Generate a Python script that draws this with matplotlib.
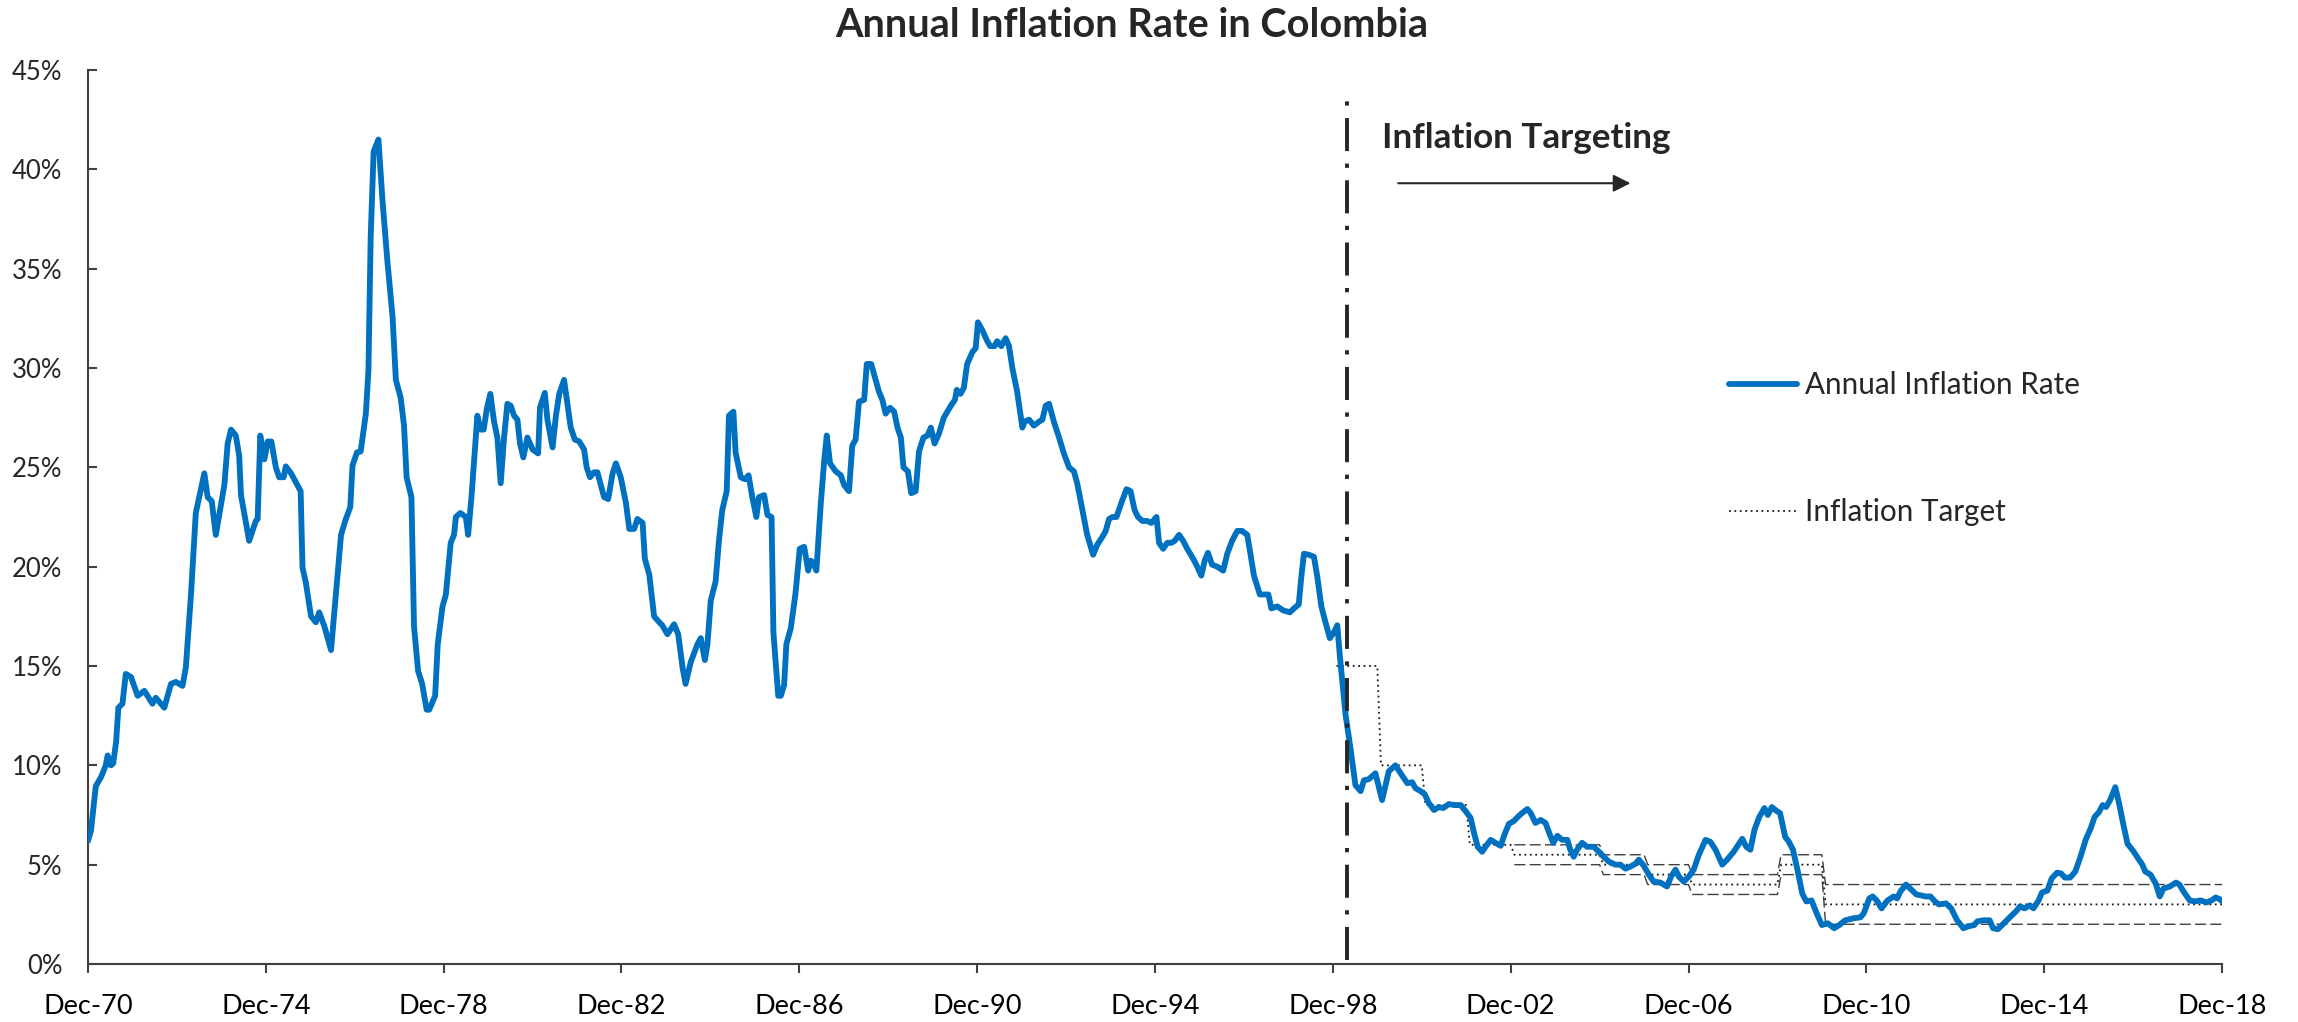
import numpy as np
import matplotlib
matplotlib.use("Agg")
import matplotlib.pyplot as plt

# Font close to Calibri (Carlito is derived from Lato)
plt.rcParams['font.family'] = ['Lato', 'DejaVu Sans']
TEXT_COLOR = '#262626'
BLUE = '#0070C0'

# Months counted from Dec-70 (0 = Dec-70, 576 = Dec-18)
months = [
    0, 0.8, 2.1, 3.5, 4.8, 5.3, 6.2, 6.8, 7.6, 8.2, 9.3, 10.2, 11.6, 13.4, 15.2, 17.4,
    18.3, 20.6, 22.4, 23.7, 25.5, 26.4, 27.8, 29.1, 31.4, 32.3, 33.4, 34.5, 36.8, 37.7,
    38.6, 39.9, 40.8, 41.3, 43.5, 45.3, 45.8, 46.5, 47.6, 48.5, 49.5, 50.7, 51.6, 52.8,
    53.4, 54.8, 57.4, 57.9, 58.8, 60.2, 61.5, 62.4, 63.8, 65.6, 66.9, 68.3, 69.6, 70.8,
    71.4, 72.6, 73.6, 75.0, 75.7, 76.3, 77.1, 78.4, 79.5, 80.8, 82.2, 83.1, 84.4, 85.3,
    86.0, 87.3, 88.0, 89.1, 90.2, 91.4, 92.1, 93.7, 94.4, 95.7, 96.6,
    97.9, 98.8, 99.3, 100.5, 102.0, 102.6, 103.5, 105.1, 105.9, 106.8, 107.7, 108.6,
    109.6, 110.5, 111.4, 112.3, 113.2, 114.1, 115.0, 115.9, 116.6, 117.5, 118.6, 120.0,
    121.5, 122.0, 123.3, 124.0, 125.4, 126.3, 127.2, 128.5, 129.4, 130.3, 131.4, 132.6,
    133.9, 134.6, 135.5, 136.6, 137.5, 139.3, 140.4, 141.6, 142.5, 143.8, 145.2, 146.1,
    147.4, 148.3, 149.7, 150.3, 151.5, 152.8, 154.2, 155.0, 156.4, 158.2, 159.3, 160.5,
    161.3, 162.7, 164.5, 165.4, 166.5, 167.2, 168.1, 169.4, 170.3, 171.2, 172.4, 173.0,
    174.2, 174.8, 176.2, 177.3, 178.3, 179.3, 180.4, 181.1, 182.5, 183.4, 184.5, 185.0,
    186.3, 187.0, 187.9, 188.5, 189.7, 191.0, 192.1, 193.3, 194.4, 195.1, 195.8, 196.6,
    197.8, 198.7, 199.4, 200.3, 201.8, 203.2, 204.1, 205.4, 206.3, 207.2, 208.1, 209.5,
    210.2, 211.4, 212.6, 213.5, 214.4, 215.3, 216.5, 217.6, 218.5, 219.4,
    220.1, 221.3, 222.2, 223.4, 224.3, 225.5, 226.6, 227.5, 228.5, 229.7, 231.0, 232.9,
    234.0, 234.5, 235.5, 236.4, 237.3, 238.7, 239.6, 240.2, 241.4, 242.6, 243.5, 244.7,
    245.4, 246.5, 247.7, 248.6, 249.5, 250.8, 252.2, 252.8, 254.0, 255.3, 256.7, 257.6,
    258.5, 259.4, 260.7, 262.1, 263.4, 264.8, 266.1, 267.0, 268.4, 269.7, 271.3, 272.4,
    273.8, 274.7, 275.6, 276.5, 277.6, 278.9, 280.3, 281.4, 282.5, 283.4, 284.6, 285.9,
    287.0, 288.4, 289.1, 290.2, 291.3, 292.4, 293.3, 294.5, 295.6, 296.7, 298.3, 299.4,
    300.5, 301.4, 302.3, 303.4, 304.8, 306.4, 307.5, 308.8, 310.2, 311.5, 312.9, 313.8,
    314.7, 316.3, 317.4, 318.6, 319.4, 321.0, 322.6, 324.4, 325.5, 326.8, 327.5, 328.2,
    329.5, 330.9, 331.8, 332.9, 333.8, 335.2, 336.3, 337.2, 337.9, 339.4,
    340.8, 342.1, 343.5, 344.4, 345.7, 347.5, 349.3, 351.1, 352.9, 354.3, 356.1, 357.4,
    358.3, 359.7, 360.8, 361.9, 363.3, 364.6, 365.8, 367.3, 368.8, 370.5, 371.8, 373.2,
    374.1, 375.1, 376.3, 377.2, 378.6, 379.9, 381.3, 382.3, 383.5, 384.9, 385.9, 387.1,
    388.5, 389.4, 390.7, 392.1, 393.4, 394.6, 395.5, 396.6, 397.9, 399.3, 400.1, 401.0,
    401.9, 403.3, 404.6, 406.4, 407.8, 409.1, 410.5, 412.3, 413.6, 415.0, 416.3, 417.7,
    418.6, 419.9, 421.3, 422.6, 424.4, 426.2, 427.3, 428.5, 429.4, 430.7, 432.1, 433.4,
    434.8, 436.6, 437.9, 439.3, 441.1, 442.4, 444.2, 446.5, 447.6, 448.7,
    449.8, 451.1, 452.5, 453.4, 454.5, 455.8, 456.7, 458.1, 459.1, 460.2, 461.4, 462.7,
    463.8, 465.2, 466.6, 468.0, 469.6, 471.3, 472.7, 474.3, 476.5, 478.4, 479.3, 480.8,
    481.7, 482.8, 484.1, 485.7, 487.4, 488.3, 489.2, 490.7, 492.1, 493.5, 494.9, 495.9,
    497.3, 498.5, 499.6, 501.5, 502.9, 504.5, 506.2, 507.6, 509.1, 510.0, 511.7, 513.3,
    514.2, 515.5, 517.1, 519.0, 520.4, 521.5, 522.7, 524.1, 525.1, 526.5, 527.4, 528.9,
    530.0, 531.5, 532.6, 533.6, 535.0, 536.4, 537.8, 539.2, 540.6, 541.6, 542.8, 543.8,
    544.7, 545.8, 547.2, 548.2, 549.4, 550.5, 552.0, 553.4, 554.5, 555.3, 556.7, 558.1,
    559.2, 560.2, 561.9, 563.6, 564.5, 565.6, 567.3, 568.7, 570.2, 571.8, 573.2, 574.3,
    575.5, 576.0,
]

# Annual inflation rate (%)
inflation = [
    6.2, 6.7, 8.95, 9.4, 10.0, 10.5, 10.0, 10.1, 11.2, 12.9, 13.1, 14.6, 14.45, 13.5, 13.75, 13.1,
    13.4, 12.9, 14.1, 14.2, 14.0, 14.9, 18.6, 22.7, 24.7, 23.5, 23.3, 21.6, 24.1, 26.2,
    26.9, 26.6, 25.6, 23.6, 21.3, 22.3, 22.4, 26.6, 25.4, 26.3, 26.3, 25.0, 24.5, 24.5,
    25.05, 24.7, 23.8, 19.95, 19.2, 17.5, 17.2, 17.7, 17.0, 15.8, 18.6, 21.6, 22.4, 23.0,
    25.1, 25.75, 25.8, 27.7, 29.9, 36.6, 40.9, 41.5, 38.4, 35.4, 32.6, 29.4, 28.5, 27.1,
    24.5, 23.5, 17.0, 14.75, 14.1, 12.8, 12.8, 13.5, 16.1, 18.0, 18.6,
    21.2, 21.6, 22.5, 22.7, 22.5, 21.6, 23.5, 27.6, 26.9, 26.9, 28.0, 28.7,
    27.3, 26.5, 24.2, 26.5, 28.2, 28.1, 27.6, 27.4, 26.2, 25.5, 26.5, 25.9,
    25.7, 28.0, 28.75, 27.4, 26.0, 27.6, 28.7, 29.4, 28.2, 27.0, 26.4, 26.3,
    25.9, 25.0, 24.5, 24.75, 24.75, 23.5, 23.4, 24.7, 25.2, 24.5, 23.2, 21.9,
    21.9, 22.4, 22.2, 20.4, 19.6, 17.5, 17.2, 17.05, 16.6, 17.1, 16.6, 14.9,
    14.1, 15.2, 16.1, 16.4, 15.3, 16.1, 18.3, 19.25, 21.3, 22.85, 23.8, 27.6,
    27.8, 25.75, 24.5, 24.4, 24.6, 23.5, 22.5, 23.5, 23.6, 22.6, 22.5, 16.7,
    13.5, 13.5, 14.05, 16.1, 16.9, 18.7, 20.9, 21.0, 19.8, 20.3, 20.2, 19.8,
    23.2, 25.3, 26.6, 25.2, 24.8, 24.6, 24.1, 23.8, 26.1, 26.4, 28.3, 28.4,
    30.2, 30.2, 29.4, 28.8, 28.4, 27.7, 28.0, 27.8, 27.0, 26.5,
    25.0, 24.8, 23.7, 23.8, 25.8, 26.5, 26.6, 27.0, 26.2, 26.7, 27.5, 28.1,
    28.4, 28.9, 28.7, 29.0, 30.2, 30.8, 31.0, 32.3, 31.9, 31.4, 31.1, 31.1,
    31.35, 31.1, 31.5, 31.1, 30.0, 28.8, 27.0, 27.3, 27.4, 27.1, 27.3, 27.4,
    28.1, 28.2, 27.3, 26.5, 25.7, 25.0, 24.8, 24.2, 22.85, 21.6, 20.6, 21.1,
    21.5, 21.8, 22.4, 22.5, 22.5, 23.2, 23.9, 23.8, 22.85, 22.5, 22.3, 22.3,
    22.2, 22.5, 21.2, 20.9, 21.2, 21.2, 21.3, 21.6, 21.3, 20.9, 20.4, 20.0,
    19.55, 20.3, 20.7, 20.1, 20.0, 19.8, 20.65, 21.3, 21.8, 21.8, 21.6, 20.6,
    19.55, 18.6, 18.6, 18.6, 17.9, 18.0, 17.8, 17.7, 17.9, 18.1, 19.5, 20.65,
    20.6, 20.5, 19.5, 18.0, 17.35, 16.4, 16.7, 17.05, 15.5, 12.6,
    10.8, 9.0, 8.7, 9.25, 9.3, 9.6, 8.25, 9.7, 10.0, 9.6, 9.1, 9.15,
    8.85, 8.7, 8.55, 8.1, 7.75, 7.9, 7.85, 8.05, 8.0, 8.0, 7.7, 7.35,
    6.6, 5.9, 5.65, 5.9, 6.25, 6.1, 5.95, 6.5, 7.05, 7.2, 7.4, 7.6,
    7.8, 7.6, 7.1, 7.25, 7.1, 6.5, 6.1, 6.45, 6.25, 6.25, 5.75, 5.4,
    5.75, 6.1, 5.9, 5.9, 5.65, 5.4, 5.15, 5.0, 5.0, 4.8, 4.9, 5.05,
    5.25, 4.95, 4.5, 4.15, 4.1, 3.9, 4.4, 4.75, 4.4, 4.15, 4.4, 4.75,
    5.5, 6.25, 6.15, 5.75, 5.0, 5.25, 5.65, 6.3, 5.9, 5.75,
    6.75, 7.4, 7.85, 7.5, 7.9, 7.7, 7.6, 6.4, 6.15, 5.75, 4.75, 3.55,
    3.15, 3.2, 2.55, 1.96, 2.05, 1.8, 1.96, 2.2, 2.3, 2.35, 2.55, 3.3,
    3.4, 3.2, 2.8, 3.2, 3.4, 3.3, 3.65, 4.0, 3.75, 3.5, 3.45, 3.4,
    3.4, 3.15, 3.0, 3.05, 2.8, 2.2, 1.8, 1.9, 1.96, 2.15, 2.2, 2.2,
    1.8, 1.75, 2.05, 2.4, 2.65, 2.9, 2.8, 2.95, 2.8, 3.2, 3.6, 3.7,
    4.3, 4.6, 4.55, 4.35, 4.35, 4.65, 5.4, 6.25, 6.85, 7.4, 7.65, 8.0,
    7.9, 8.25, 8.9, 8.1, 7.0, 6.05, 5.7, 5.3, 5.0, 4.65, 4.5, 4.05,
    3.4, 3.8, 3.9, 4.1, 4.0, 3.65, 3.2, 3.15, 3.2, 3.1, 3.2, 3.35,
    3.25, 3.15,
]

# Central bank annual targets (%), one value per year
target_years = list(range(1999, 2019))
target_point = [15, 10, 8, 6, 5.5, 5.5, 5, 4.5, 4, 4, 5, 3, 3, 3, 3, 3, 3, 3, 3, 3]
target_low = [np.nan] * 4 + [5, 5, 4.5, 4, 3.5, 3.5, 4.5, 2, 2, 2, 2, 2, 2, 2, 2, 2]
target_high = [np.nan] * 4 + [6, 6, 5.5, 5, 4.5, 4.5, 5.5, 4, 4, 4, 4, 4, 4, 4, 4, 4]

# Start of inflation targeting, in months from Dec-70
targeting_start = 339.7

x_ticks = list(range(0, 577, 48))
x_labels = ['Dec-70', 'Dec-74', 'Dec-78', 'Dec-82', 'Dec-86', 'Dec-90', 'Dec-94',
            'Dec-98', 'Dec-02', 'Dec-06', 'Dec-10', 'Dec-14', 'Dec-18']
y_ticks = list(range(0, 46, 5))

# Spread each annual target over its twelve months (Jan..Dec)
target_months = np.concatenate([(y - 1971) * 12 + np.arange(1, 13) for y in target_years])
point_monthly = np.repeat(target_point, 12)
low_monthly = np.repeat(target_low, 12)
high_monthly = np.repeat(target_high, 12)

fig = plt.figure(figsize=(22.98, 10.22), dpi=100)
ax = fig.add_axes([0.03829, 0.05675, 0.92864, 0.87476])

ax.plot(target_months, high_monthly, color='#404040', lw=1.0, ls=(0, (8, 3)))
ax.plot(target_months, low_monthly, color='#404040', lw=1.0, ls=(0, (8, 3)))
ax.plot(target_months, point_monthly, color='#1a1a1a', lw=1.3, ls=(0, (1, 2)),
        label='Inflation Target')
ax.plot(months, inflation, color=BLUE, lw=4.2, solid_capstyle='round',
        solid_joinstyle='round', label='Annual Inflation Rate', zorder=4)

# dash-dot marker of the regime change
ax.axvline(targeting_start, ymin=0.005, ymax=0.969, color='#262626', lw=2.8,
           ls=(0, (8.5, 3.2, 1.1, 3.2)), zorder=5)

ax.text(349.3, 41.06, 'Inflation Targeting', fontsize=25.2, fontweight='bold',
        color=TEXT_COLOR, ha='left', va='baseline')
ax.annotate('', xy=(417.1, 39.3), xytext=(352.9, 39.3),
            arrowprops=dict(arrowstyle='-|>', lw=1.5, color='#262626', mutation_scale=26))

ax.set_xlim(0, 576)
ax.set_ylim(0, 45)
ax.set_xticks(x_ticks)
ax.set_xticklabels(x_labels)
ax.set_yticks(y_ticks)
ax.set_yticklabels([f'{v}%' for v in y_ticks])

for side in ['top', 'right']:
    ax.spines[side].set_visible(False)
for side in ['left', 'bottom']:
    ax.spines[side].set_color('#404040')
    ax.spines[side].set_linewidth(1.5)

ax.tick_params(axis='y', direction='in', length=6.5, width=1.5, color='#404040',
               labelsize=18.5, labelcolor=TEXT_COLOR, pad=18.5)
ax.tick_params(axis='x', direction='out', length=6.5, width=1.5, color='#404040',
               labelsize=19.5, labelcolor='black', pad=15)

handles, labels = ax.get_legend_handles_labels()
order = [1, 0]
leg = ax.legend([handles[i] for i in order], [labels[i] for i in order],
                loc='center left', bbox_to_anchor=(0.7524, 0.561),
                bbox_transform=fig.transFigure, frameon=False, fontsize=21.3,
                handlelength=2.3, handletextpad=0.28, labelspacing=3.36,
                borderpad=0, borderaxespad=0)
for t in leg.get_texts():
    t.set_color(TEXT_COLOR)

fig.text(0.4926, 0.964, 'Annual Inflation Rate in Colombia', fontsize=28.5,
         fontweight='bold', color=TEXT_COLOR, ha='center', va='baseline')

fig.savefig('out.png', dpi=100, facecolor='white')
